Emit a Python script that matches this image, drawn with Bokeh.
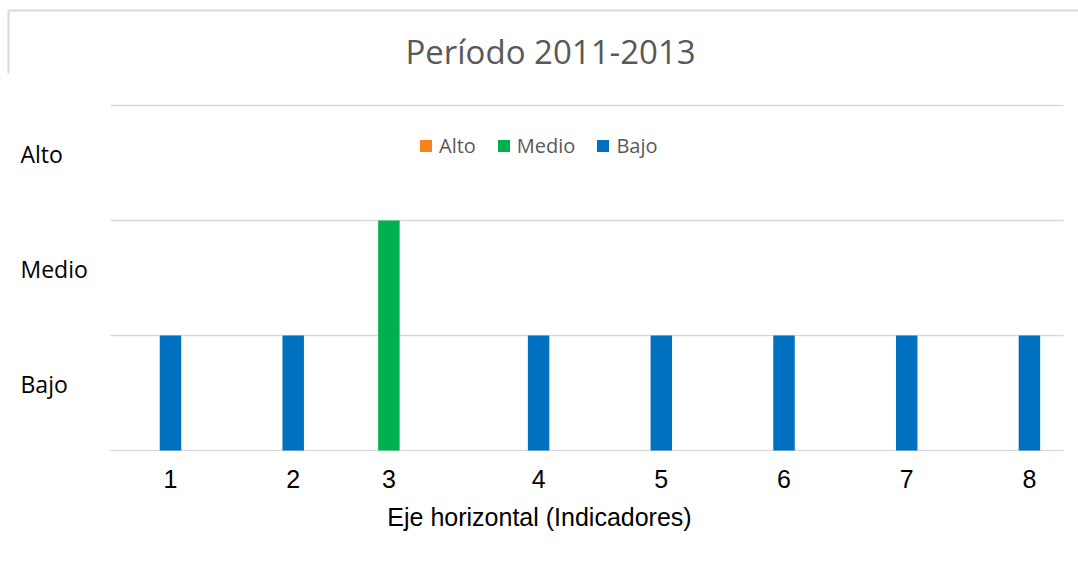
from bokeh.plotting import figure
from bokeh.models import Range1d, FixedTicker, ColumnDataSource
from bokeh.transform import dodge
from bokeh.embed import file_html
from bokeh.resources import INLINE
from bokeh.core.properties import value

# ---- data ----
categories = [1, 2, 3, 4, 5, 6, 7, 8]
alto = [0, 0, 0, 0, 0, 0, 0, 0]
medio = [0, 0, 2, 0, 0, 0, 0, 0]
bajo = [1, 1, 0, 1, 1, 1, 1, 1]
series_names = ["Alto", "Medio", "Bajo"]
level_labels = ["Bajo", "Medio", "Alto"]
level_values = [0.5, 1.5, 2.5]
grid_levels = [0, 1, 2, 3]
title_text = "Período 2011-2013"
x_title = "Eje horizontal (Indicadores)"

# ---- style / layout ----
colors = ["#F7831A", "#00B050", "#0070C0"]
offsets = [-0.22, 0.0, 0.22]
bar_w = 0.175
grid_color = "#D9D9D9"
arial = "'Liberation Sans', Arial, sans-serif"
x_start, x_end = -0.1654, 8.620
y_start, y_end = -0.0087, 3.913
grid_x0, grid_x1 = 0.731, 8.498
label_x = -0.0024
title_x, title_y = 4.317, 3.461
border_x, border_top, border_left_bottom = -0.1002, 3.826, 3.278

source = ColumnDataSource(dict(cat=categories, Alto=alto, Medio=medio, Bajo=bajo))

p = figure(width=1078, height=563,
           x_range=Range1d(x_start, x_end), y_range=Range1d(y_start, y_end),
           output_backend="svg", toolbar_location=None,
           min_border_left=0, min_border_right=0,
           min_border_top=0, min_border_bottom=112)
p.outline_line_color = None
p.background_fill_color = "white"
p.border_fill_color = "white"

# chart-area border fragments (top edge and upper left edge)
p.segment(x0=[border_x, border_x], x1=[x_end, border_x],
          y0=[border_top, border_top], y1=[border_top, border_left_bottom],
          line_color=grid_color, line_width=2)

# horizontal gridlines
p.segment(x0=grid_x0, x1=grid_x1, y0=grid_levels, y1=grid_levels,
          line_color=grid_color, line_width=1.5)

for name, col, off in zip(series_names, colors, offsets):
    p.vbar(x=dodge("cat", off, range=p.x_range), top=name, width=bar_w,
           source=source, fill_color=col, line_color=None, legend_label=name)

# ticks under the visible bar of each category
series_vals = [alto, medio, bajo]
tick_pos = []
overrides = {}
for i, c in enumerate(categories):
    for vals, off in zip(series_vals, offsets):
        if vals[i] != 0:
            pos = round(c + off, 4)
            tick_pos.append(pos)
            overrides[pos] = str(c)
            break

p.xaxis.ticker = FixedTicker(ticks=tick_pos)
p.xaxis.major_label_overrides = overrides
p.xaxis.axis_line_color = None
p.xaxis.major_tick_line_color = None
p.xaxis.minor_tick_line_color = None
p.xaxis.major_label_text_font = arial
p.xaxis.major_label_text_font_size = "25px"
p.xaxis.major_label_text_color = "black"
p.xaxis.major_label_standoff = 12
p.xaxis.axis_label = x_title
p.xaxis.axis_label_text_font = arial
p.xaxis.axis_label_text_font_size = "25px"
p.xaxis.axis_label_text_font_style = "normal"
p.xaxis.axis_label_text_color = "black"
p.xaxis.axis_label_standoff = 12

p.yaxis.visible = False
p.xgrid.visible = False
p.ygrid.visible = False

# title
p.text(x=[title_x], y=[title_y], text=[title_text], y_offset=-1,
       text_font=value("Open Sans"), text_font_size="33px",
       text_color="#595959", text_align="center", text_baseline="middle")

# level labels on the left
p.text(x=[label_x] * len(level_labels), y=level_values, text=level_labels,
       y_offset=-8.5, text_font=value("Open Sans"), text_font_size="23px",
       text_color="black", text_align="left", text_baseline="middle")

# legend
leg = p.legend[0]
leg.orientation = "horizontal"
leg.location = (418, 292)
leg.padding = 0
leg.margin = 0
leg.spacing = 20
leg.label_standoff = 6
leg.glyph_width = 15
leg.glyph_height = 15
leg.label_text_font = "Open Sans"
leg.label_text_font_size = "20px"
leg.label_text_color = "#595959"
leg.background_fill_alpha = 0
leg.border_line_color = None

open("out.html", "w").write(file_html(p, INLINE))
